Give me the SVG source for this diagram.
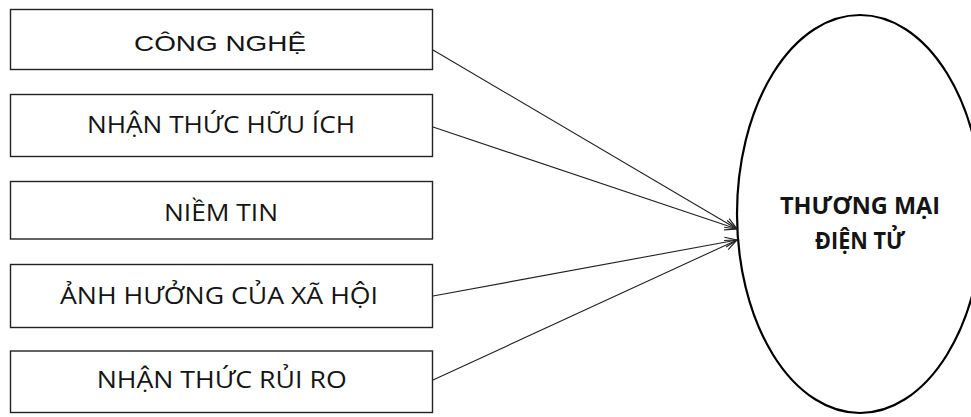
<svg xmlns="http://www.w3.org/2000/svg" width="971" height="417" viewBox="0 0 971 417">
  <style>
    .box { fill: #ffffff; stroke: #222222; stroke-width: 1.4; }
    .lbl { font-family: "Open Sans", "Noto Sans", "DejaVu Sans", sans-serif; font-size: 23.5px; fill: #141414; text-anchor: middle; }
    .arial { font-family: "Liberation Sans", Arial, sans-serif; font-size: 22.5px; }
    .target { fill: #ffffff; stroke: #000000; stroke-width: 2.2; }
    .tlbl { font-family: "Open Sans", "Noto Sans", "DejaVu Sans", sans-serif; font-size: 23px; font-weight: bold; fill: #141414; text-anchor: middle; }
    .edge { fill: none; stroke: #222222; stroke-width: 1.1; }
  </style>
  <defs>
    <marker id="open-arrow" markerUnits="userSpaceOnUse" markerWidth="16" markerHeight="14" refX="13" refY="6" orient="auto">
      <path d="M1,1 L13,6 L1,11" fill="none" stroke="#222222" stroke-width="1.2"/>
    </marker>
  </defs>

  <rect width="971" height="417" fill="#ffffff"/>

  <g id="node-thuong-mai-dien-tu">
    <ellipse class="target" cx="860" cy="214" rx="123" ry="199"/>
    <text class="tlbl" x="860" y="214" textLength="160" lengthAdjust="spacingAndGlyphs">THƯƠNG MẠI</text>
    <text class="tlbl" x="860" y="248.5" textLength="90" lengthAdjust="spacingAndGlyphs">ĐIỆN TỬ</text>
  </g>

  <g id="connectors">
    <line class="edge" x1="433" y1="50" x2="737" y2="229" marker-end="url(#open-arrow)"/>
    <line class="edge" x1="433" y1="127" x2="737" y2="229" marker-end="url(#open-arrow)"/>
    <line class="edge" x1="433" y1="296" x2="737" y2="240" marker-end="url(#open-arrow)"/>
    <line class="edge" x1="433" y1="380" x2="737" y2="240" marker-end="url(#open-arrow)"/>
  </g>

  <g id="node-cong-nghe">
    <rect class="box" x="10.5" y="9.5" width="422" height="60"/>
    <text class="lbl arial" x="220" y="50.7" textLength="172" lengthAdjust="spacingAndGlyphs">CÔNG NGHỆ</text>
  </g>

  <g id="node-nhan-thuc-huu-ich">
    <rect class="box" x="10.5" y="94.5" width="422" height="62"/>
    <text class="lbl" x="221" y="133" textLength="268" lengthAdjust="spacingAndGlyphs">NHẬN THỨC HỮU ÍCH</text>
  </g>

  <g id="node-niem-tin">
    <rect class="box" x="10.5" y="181.5" width="422" height="57.5"/>
    <text class="lbl" x="221" y="220.7" textLength="114" lengthAdjust="spacingAndGlyphs">NIỀM TIN</text>
  </g>

  <g id="node-anh-huong-cua-xa-hoi">
    <rect class="box" x="10.5" y="264.5" width="422" height="63"/>
    <text class="lbl" x="219" y="304.3" textLength="318" lengthAdjust="spacingAndGlyphs">ẢNH HƯỞNG CỦA XÃ HỘI</text>
  </g>

  <g id="node-nhan-thuc-rui-ro">
    <rect class="box" x="10.5" y="351" width="422" height="61.5"/>
    <text class="lbl" x="221.7" y="388.3" textLength="250" lengthAdjust="spacingAndGlyphs">NHẬN THỨC RỦI RO</text>
  </g>
</svg>
